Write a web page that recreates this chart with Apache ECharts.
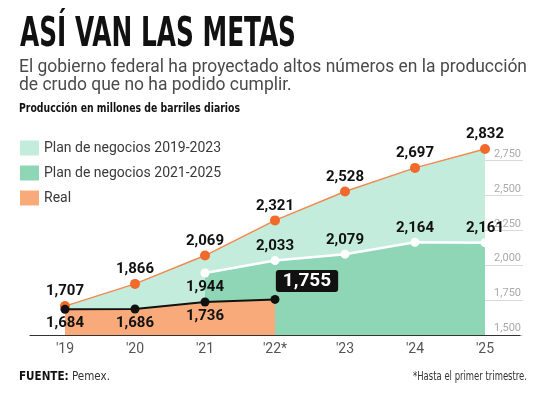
<!DOCTYPE html>
<html>
<head>
<meta charset="utf-8">
<script src="https://cdn.jsdelivr.net/npm/echarts@6/dist/echarts.min.js"></script>
<style>
html,body{margin:0;padding:0;background:#fff;}
#c{width:545px;height:400px;}
</style>
</head>
<body>
<div id="c"></div>
<script>
const categories = ["'19", "'20", "'21", "'22*", "'23", "'24", "'25"];
const plan1923 = [1707, 1866, 2069, 2321, 2528, 2697, 2832];
const plan2125 = [null, null, 1944, 2033, 2079, 2164, 2161];
const real = [1684, 1686, 1736, 1755, null, null, null];
const yTicks = [1500, 1750, 2000, 2250, 2500, 2750];
const seriesNames = ['Plan de negocios 2019-2023', 'Plan de negocios 2021-2025', 'Real'];

const COND = '"DejaVu Sans Condensed", "DejaVu Sans", sans-serif';
const ROBO = 'Roboto, "Noto Sans", sans-serif';
const C_MINT = '#c4ecdd';
const C_GREEN = '#8ed6b6';
const C_ORANGE_AREA = '#f9aa7a';
const C_ORANGE = '#f26a2a';
const fmt = v => Number(v).toLocaleString('en-US');

const mctx = document.createElement('canvas').getContext('2d');
function textW(text, font) { mctx.font = font; return mctx.measureText(text).width; }
function fit(text, font, target) { return target / textW(text, font); }

const baseLabel = {
  show: true, fontFamily: ROBO, fontWeight: 'bold', fontSize: 15,
  color: '#111', distance: 2, formatter: p => fmt(p.value)
};

function build(values, defPos, overrides) {
  return values.map((v, i) => {
    if (v === null) return null;
    const ov = overrides[i];
    return ov ? { value: v, label: ov } : { value: v, label: { position: defPos } };
  });
}

const interval = yTicks[1] - yTicks[0];
const yMin = yTicks[0];
const yTop = yTicks[yTicks.length - 1];

const F_TITLE = 'bold 40px ' + COND;
const T_TITLE = 'ASÍ VAN LAS METAS';
const F_SUB = '18px ' + ROBO;
const T_SUB1 = 'El gobierno federal ha proyectado altos números en la producción';
const T_SUB2 = 'de crudo que no ha podido cumplir.';
const F_UNIT = 'bold 12px ' + COND;
const T_UNIT = 'Producción en millones de barriles diarios';
const F_SRC_B = 'bold 13px ' + COND;
const F_SRC = '13px ' + COND;
const F_NOTE = '13px ' + COND;
const T_NOTE = '*Hasta el primer trimestre.';
const srcScale = 91 / (textW('FUENTE:', F_SRC_B) + textW(' Pemex.', F_SRC));

const chart = echarts.init(document.getElementById('c'), null, { renderer: 'canvas' });
chart.setOption({
  animation: false,
  backgroundColor: '#fff',
  grid: [
    { left: 30, right: 25, top: 125.6, bottom: 65 },
    { left: 467, right: 22, top: 160.5, bottom: 65 }
  ],
  xAxis: [
    {
      type: 'category', gridIndex: 0, data: categories, boundaryGap: true,
      axisLine: { lineStyle: { color: '#333', width: 1.2 } },
      axisTick: { show: false },
      axisLabel: { color: '#555', fontFamily: ROBO, fontSize: 14, margin: 7 },
      z: 10
    },
    { type: 'value', gridIndex: 1, show: false, min: 0, max: 1 }
  ],
  yAxis: [
    { type: 'value', gridIndex: 0, min: yMin, max: 3000, show: false },
    {
      type: 'value', gridIndex: 1, min: yMin, max: yTop, interval: interval,
      position: 'right',
      axisLine: { show: false }, axisTick: { show: false },
      splitLine: { show: true, lineStyle: { color: '#d9d9d9', width: 1 } },
      axisLabel: {
        inside: true, margin: 2, color: '#aaaaaa', fontFamily: ROBO, fontSize: 11,
        verticalAlign: 'bottom', padding: [0, 0, 1, 0],
        formatter: v => fmt(v)
      }
    }
  ],
  legend: {
    orient: 'vertical', left: 20, top: 140.5, padding: 0,
    itemWidth: 19, itemHeight: 15, itemGap: 10, icon: 'rect',
    textStyle: { fontFamily: ROBO, fontSize: 14, color: '#3a3a3a' },
    data: [
      { name: seriesNames[0], itemStyle: { color: C_MINT } },
      { name: seriesNames[1], itemStyle: { color: C_GREEN } },
      { name: seriesNames[2], itemStyle: { color: C_ORANGE_AREA } }
    ]
  },
  series: [
    {
      name: seriesNames[0], type: 'line', xAxisIndex: 0, yAxisIndex: 0,
      data: build(plan1923, 'top', {}),
      symbol: 'circle', symbolSize: 10,
      itemStyle: { color: C_ORANGE },
      lineStyle: { color: '#f08a50', width: 1.5 },
      areaStyle: { color: C_MINT, opacity: 1 },
      label: baseLabel, emphasis: { disabled: true }, z: 2
    },
    {
      name: seriesNames[1], type: 'line', xAxisIndex: 0, yAxisIndex: 0,
      data: build(plan2125, 'top', { 2: { position: 'bottom' } }),
      symbol: 'circle', symbolSize: 9,
      itemStyle: { color: '#ffffff' },
      lineStyle: { color: '#ffffff', width: 2.5 },
      areaStyle: { color: C_GREEN, opacity: 1 },
      label: baseLabel, emphasis: { disabled: true }, z: 3
    },
    {
      name: seriesNames[2], type: 'line', xAxisIndex: 0, yAxisIndex: 0,
      data: build(real, 'bottom', {
        3: {
          position: 'top', distance: 3, offset: [32, 0],
          backgroundColor: '#111', color: '#fff', fontSize: 19,
          padding: [2, 7, 1, 7], borderRadius: 3
        }
      }),
      symbol: 'circle', symbolSize: 9,
      itemStyle: { color: '#111' },
      lineStyle: { color: '#111', width: 2 },
      areaStyle: { color: C_ORANGE_AREA, opacity: 1 },
      label: baseLabel, emphasis: { disabled: true }, z: 4
    }
  ],
  graphic: [
    {
      type: 'text', x: 20, y: 36, scaleX: fit(T_TITLE, F_TITLE, 276),
      style: { text: T_TITLE, font: F_TITLE, fill: '#111', textVerticalAlign: 'middle' }
    },
    {
      type: 'text', x: 19, y: 67, scaleX: fit(T_SUB1, F_SUB, 508),
      style: { text: T_SUB1, font: F_SUB, fill: '#4a4a4a', textVerticalAlign: 'middle' }
    },
    {
      type: 'text', x: 19, y: 85, scaleX: fit(T_SUB1, F_SUB, 508),
      style: { text: T_SUB2, font: F_SUB, fill: '#4a4a4a', textVerticalAlign: 'middle' }
    },
    {
      type: 'text', x: 19, y: 109, scaleX: fit(T_UNIT, F_UNIT, 221),
      style: { text: T_UNIT, font: F_UNIT, fill: '#111', textVerticalAlign: 'middle' }
    },
    {
      type: 'text', x: 19, y: 377, scaleX: srcScale,
      style: {
        text: '{b|FUENTE:} Pemex.', font: F_SRC, fill: '#333', textVerticalAlign: 'middle',
        rich: { b: { fontWeight: 'bold', fontSize: 13, fontFamily: COND, fill: '#111' } }
      }
    },
    {
      type: 'text', x: 527, y: 377, scaleX: fit(T_NOTE, F_NOTE, 114),
      style: { text: T_NOTE, font: F_NOTE, fill: '#333', textAlign: 'right', textVerticalAlign: 'middle' }
    }
  ]
});
</script>
</body>
</html>
